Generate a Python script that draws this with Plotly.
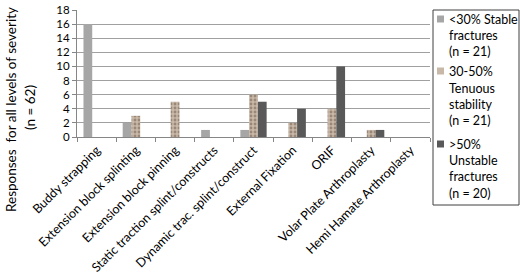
import plotly.graph_objects as go

categories = ["Buddy strapping", "Extension block splinting", "Extension block pinning",
              "Static traction splint/constructs", "Dynamic trac. splint/construct",
              "External Fixation", "ORIF", "Volar Plate Arthroplasty", "Hemi Hamate Arthroplasty"]
stable = [16, 2, 0, 1, 1, 0, 0, 0, 0]
tenuous = [0, 3, 5, 0, 6, 2, 4, 1, 0]
unstable = [0, 0, 0, 0, 5, 4, 10, 1, 0]
series_lines = [["<30% Stable", "fractures", "(n = 21)"],
                ["30-50%", "Tenuous", "stability", "(n = 21)"],
                [">50%", "Unstable", "fractures", "(n = 20)"]]
y_ticks = list(range(0, 19, 2))

FONT = "Lato"
C_STABLE = "#a6a6a6"
C_TEN = "#c8b8a8"
C_UNST = "#595959"

fig = go.Figure()
fig.add_trace(go.Bar(x=categories, y=stable, marker=dict(color=C_STABLE, line=dict(width=0)),
                     showlegend=False))
fig.add_trace(go.Bar(x=categories, y=tenuous,
                     marker=dict(color=C_TEN, line=dict(width=0),
                                 pattern=dict(shape=".", fgcolor="#6e5544", size=4, solidity=0.4)),
                     showlegend=False))
fig.add_trace(go.Bar(x=categories, y=unstable, marker=dict(color=C_UNST, line=dict(width=0)),
                     showlegend=False))

W, H = 520, 278
L, R, T, B = 77, 90, 10, 141
pw, ph = W - L - R, H - T - B

def px(x):
    return (x - L) / pw

def py(y):
    return (H - B - y) / ph

fig.update_layout(
    width=W, height=H,
    margin=dict(l=L, r=R, t=T, b=B, pad=0, autoexpand=False),
    paper_bgcolor="white", plot_bgcolor="white",
    barmode="group", bargap=0.33, bargroupgap=0,
    font=dict(family=FONT, size=12, color="#000000"),
    xaxis=dict(tickangle=-45, tickson="boundaries", ticks="outside", ticklen=4,
               tickcolor="#868686", showline=True, linecolor="#868686", linewidth=1,
               showgrid=False, automargin=False, tickfont=dict(size=12.5, family=FONT)),
    yaxis=dict(range=[0, 18], tickvals=y_ticks, ticks="outside", ticklen=4,
               tickcolor="#868686", showline=True, linecolor="#868686", linewidth=1,
               showgrid=True, gridcolor="#a0a0a0", gridwidth=1, zeroline=False,
               automargin=False, tickfont=dict(size=11.5, family=FONT)),
)

# Y axis title (two lines, rotated)
fig.add_annotation(xref="paper", yref="paper", x=px(11), y=py(110),
                   text="Responses  for all levels of severity",
                   textangle=-90, showarrow=False,
                   font=dict(size=13.5, family=FONT), xanchor="center", yanchor="middle")
fig.add_annotation(xref="paper", yref="paper", x=px(30), y=py(108),
                   text="(n = 62)",
                   textangle=-90, showarrow=False,
                   font=dict(size=13.5, family=FONT), xanchor="center", yanchor="middle")

# Manual legend
lx0, lx1, ly0, ly1 = 433, 519, 10, 205
fig.add_shape(type="rect", xref="paper", yref="paper",
              x0=px(lx0), x1=px(lx1), y0=py(ly1), y1=py(ly0),
              line=dict(color="#404040", width=1), fillcolor="white", layer="above")
line_y = [[19, 35, 51], [71, 88, 104, 120], [144, 160, 177, 193]]
colors = [C_STABLE, C_TEN, C_UNST]
for lines, ys, col in zip(series_lines, line_y, colors):
    fig.add_shape(type="rect", xref="paper", yref="paper",
                  x0=px(437), x1=px(444), y0=py(ys[0] + 3.5), y1=py(ys[0] - 3.5),
                  line=dict(width=0), fillcolor=col, layer="above")
    for txt, yy in zip(lines, ys):
        fig.add_annotation(xref="paper", yref="paper", x=px(447), y=py(yy),
                           text=txt, showarrow=False, align="left",
                           xanchor="left", yanchor="middle",
                           font=dict(size=12.5, family=FONT))

fig.write_html("out.html")
